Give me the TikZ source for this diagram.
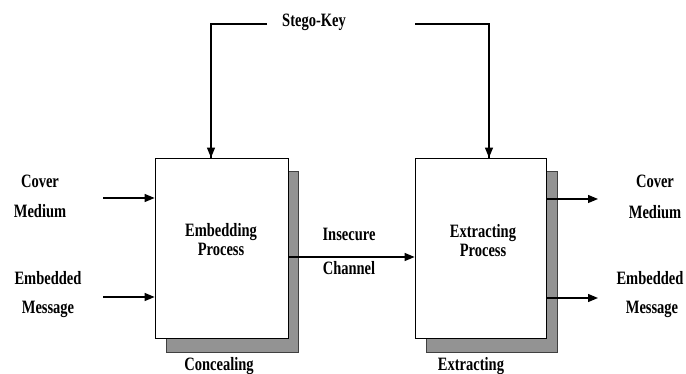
\documentclass[tikz,border=0pt]{standalone}
\usepackage{fontspec}
\usepackage{graphicx}
\setmainfont{Liberation Serif}
\usetikzlibrary{arrows.meta,backgrounds}

\newcommand{\tall}[1]{\scalebox{1}[1.3]{#1}}

\tikzset{
  procbox/.style={draw,thick,fill=white,minimum height=180pt,inner sep=0pt},
  lbl/.style={font=\bfseries\fontsize{14.5}{19}\selectfont,inner sep=1pt},
  arr/.style={-{Triangle[length=10pt,width=8pt]},line width=1.2pt},
  keyline/.style={line width=1.2pt},
  boxshadow/.style={fill=gray!85,draw=black!75,thick}
}

\begin{document}
\begin{tikzpicture}[x=1pt,y=-1pt]
    \useasboundingbox (0,0) rectangle (686,374);

    % the two processes
    \node[procbox,minimum width=133pt] (embed) at (221.5,248) {};
    \node[procbox,minimum width=131pt] (extract) at (480.5,248) {};
    \begin{pgfonlayer}{background}
      \draw[boxshadow] ([xshift=12pt,yshift=-14pt]embed.south west) rectangle ([xshift=10pt,yshift=-14pt]embed.north east);
      \draw[boxshadow] ([xshift=12pt,yshift=-14pt]extract.south west) rectangle ([xshift=11pt,yshift=-14pt]extract.north east);
    \end{pgfonlayer}
    \node[lbl,align=center] (embedtxt) at (221,240) {\tall{Embedding}\\\tall{Process}};
    \node[lbl,align=center] (extracttxt) at (483,241) {\tall{Extracting}\\\tall{Process}};
    \node[lbl] (conceal) at (219,366) {\tall{Concealing}};
    \node[lbl] (extracting) at (471,366) {\tall{Extracting}};

    % key
    \node[lbl] (key) at (314,22) {\tall{Stego-Key}};
    \coordinate (keyL) at (267,24);
    \coordinate (keyR) at (415,24);
    \draw[keyline] (keyL) -| ([xshift=-10.5pt]embed.north);
    \draw[keyline] (keyR) -| ([xshift=8.5pt]extract.north);
    \draw[arr] ([xshift=-10.5pt,yshift=40pt]embed.north) -- ([xshift=-10.5pt]embed.north);
    \draw[arr] ([xshift=8.5pt,yshift=40pt]extract.north) -- ([xshift=8.5pt]extract.north);

    % inputs
    \node[lbl] (cover1) at (40,181) {\tall{Cover}};
    \node[lbl] (medium1) at (40,211) {\tall{Medium}};
    \node[lbl] (embedded1) at (48,278) {\tall{Embedded}};
    \node[lbl] (message1) at (48,309) {\tall{Message}};
    \coordinate (coverin) at (103,198);
    \coordinate (msgin) at (103,297);
    \draw[arr] (coverin) -- (coverin -| embed.west);
    \draw[arr] (msgin) -- (msgin -| embed.west);

    % channel
    \node[lbl] (insecure) at (349,234) {\tall{Insecure}};
    \node[lbl] (channel) at (349,268) {\tall{Channel}};
    \draw[arr] ([yshift=-9pt]embed.east) -- ([yshift=-9pt]extract.west);

    % outputs
    \node[lbl] (cover2) at (655,181) {\tall{Cover}};
    \node[lbl] (medium2) at (655,212) {\tall{Medium}};
    \node[lbl] (embedded2) at (650,278) {\tall{Embedded}};
    \node[lbl] (message2) at (652,309) {\tall{Message}};
    \coordinate (coverout) at (598,199);
    \coordinate (msgout) at (598,298);
    \draw[arr] (coverout -| extract.east) -- (coverout);
    \draw[arr] (msgout -| extract.east) -- (msgout);
\end{tikzpicture}
\end{document}
